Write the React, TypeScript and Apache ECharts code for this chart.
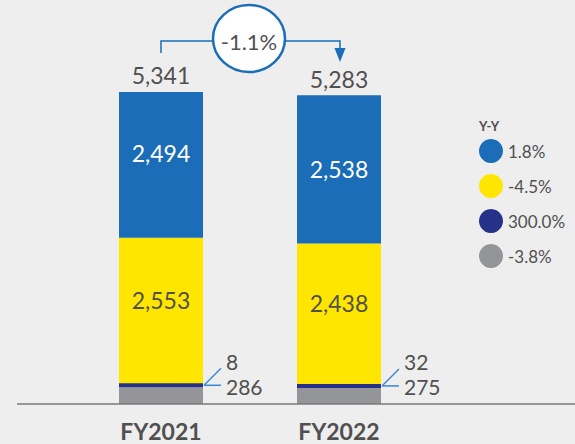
import React, { useEffect, useRef } from 'react';
import * as echarts from 'echarts';

const categories = ['FY2021', 'FY2022'];
// stack order bottom -> top: gray, navy, yellow, blue
const seriesNames = ['Segment A', 'Segment B', 'Segment C', 'Segment D']; // blue, yellow, navy, gray
const blueValues = [2494, 2538];
const yellowValues = [2553, 2438];
const navyValues = [8, 32];
const grayValues = [286, 275];
const totalValues = [5341, 5283];
const yoyLabels = ['1.8%', '-4.5%', '300.0%', '-3.8%'];
const totalChangeLabel = '-1.1%';
const legendTitle = 'Y-Y';

const FONT = 'Lato';
const TEXT = '#505050';
const BLUE = '#1a6db6';
const YELLOW = '#ffe600';
const NAVY = '#263289';
const GRAY = '#939598';
const LEADER = '#3a87cf';
const BAR_W = 84;

const fmt = (v: number) => v.toLocaleString('en-US');

export default function App() {
  const ref = useRef<HTMLDivElement>(null);

  useEffect(() => {
    if (!ref.current) return;
    const chart = echarts.init(ref.current, undefined, { renderer: 'svg' });

    const labelBase = { fontFamily: FONT, fontSize: 23, color: TEXT };
    const blueOffsets = [-12, 0];

    const option: any = {
      animation: false,
      backgroundColor: '#eeeeee',
      legend: {
        data: seriesNames,
        orient: 'vertical',
        left: 479,
        top: 139,
        padding: 0,
        icon: 'circle',
        itemWidth: 24,
        itemHeight: 24,
        itemGap: 11,
        selectedMode: false,
        formatter: (name: string) => yoyLabels[seriesNames.indexOf(name)],
        textStyle: { fontFamily: FONT, fontSize: 17, color: TEXT },
      },
      grid: { left: 72, right: 147, top: 30, bottom: 40 },
      xAxis: {
        type: 'category',
        data: categories,
        axisLine: { show: false },
        axisTick: { show: false },
        axisLabel: { fontFamily: FONT, fontSize: 23, fontWeight: 'bold', color: TEXT, margin: 15 },
      },
      yAxis: { type: 'value', min: 0, max: 6400, show: false, splitLine: { show: false } },
      series: [
        {
          name: 'Total',
          type: 'bar',
          data: totalValues,
          barWidth: BAR_W,
          barGap: '-100%',
          silent: true,
          z: 1,
          itemStyle: { color: 'rgba(0,0,0,0)' },
          label: { show: true, position: 'top', distance: 5, ...labelBase, formatter: (p: any) => fmt(p.value) },
        },
        {
          name: seriesNames[3],
          type: 'bar',
          stack: 'all',
          data: grayValues,
          barWidth: BAR_W,
          barGap: '-100%',
          itemStyle: { color: GRAY },
          label: {
            show: true, position: 'right', distance: 23, offset: [0, -9], ...labelBase, fontSize: 21, lineHeight: 21,
            formatter: (p: any) => fmt(p.value),
          },
        },
        {
          name: seriesNames[2],
          type: 'bar',
          stack: 'all',
          data: navyValues,
          barWidth: BAR_W,
          barGap: '-100%',
          barMinHeight: 4,
          z: 3,
          itemStyle: { color: NAVY },
          label: {
            show: true, position: 'right', distance: 23, offset: [0, -24], ...labelBase, fontSize: 21, lineHeight: 21,
            formatter: (p: any) => fmt(p.value),
          },
        },
        {
          name: seriesNames[1],
          type: 'bar',
          stack: 'all',
          data: yellowValues,
          barWidth: BAR_W,
          barGap: '-100%',
          itemStyle: { color: YELLOW },
          label: { show: true, position: 'inside', offset: [0, -12], ...labelBase, formatter: (p: any) => fmt(p.value) },
        },
        {
          name: seriesNames[0],
          type: 'bar',
          stack: 'all',
          data: blueValues.map((v, i) => ({ value: v, label: { offset: [0, blueOffsets[i]] } })),
          barWidth: BAR_W,
          barGap: '-100%',
          itemStyle: { color: BLUE },
          label: { show: true, position: 'inside', ...labelBase, color: '#ffffff', formatter: (p: any) => fmt(p.value) },
        },
      ],
    };

    chart.setOption(option);

    const px = (i: number, v: number) =>
      chart.convertToPixel({ xAxisIndex: 0, yAxisIndex: 0 }, [i, v]) as number[];

    const base = px(0, 0);
    const baseY = base[1];
    const graphics: any[] = [
      {
        type: 'line',
        shape: { x1: 17, y1: baseY, x2: 575, y2: baseY },
        style: { stroke: '#7a7a7a', lineWidth: 1.5 },
        z: 10,
      },
      {
        type: 'text',
        z: 12,
        style: {
          text: legendTitle,
          x: 479,
          y: 126,
          align: 'left',
          verticalAlign: 'middle',
          textAlign: 'left',
          textVerticalAlign: 'middle',
          fontFamily: FONT,
          fontSize: 13,
          fontWeight: 'bold',
          fill: TEXT,
        },
      },
    ];

    categories.forEach((_, i) => {
      const p = px(i, grayValues[i]);
      const x0 = p[0] + BAR_W / 2 + 1;
      const y0 = p[1] - 2;
      graphics.push(
        { type: 'line', shape: { x1: x0, y1: y0, x2: x0 + 17, y2: y0 - 17 }, style: { stroke: LEADER, lineWidth: 1.5 }, z: 10 },
        { type: 'line', shape: { x1: x0, y1: y0, x2: x0 + 17, y2: y0 }, style: { stroke: LEADER, lineWidth: 1.5 }, z: 10 }
      );
    });

    const c0 = px(0, 0)[0];
    const c1 = px(1, 0)[0];
    const midX = (c0 + c1) / 2 - 1;
    const cy = 38.5;
    const rx = 36;
    const ry = 33.5;
    const lineY = 41;
    const arrowX = c1 + 1;
    graphics.push(
      {
        type: 'polyline',
        shape: { points: [[c0, 53], [c0, lineY], [midX - rx, lineY]] },
        style: { stroke: BLUE, lineWidth: 1.5, fill: 'none' },
        z: 10,
      },
      {
        type: 'polyline',
        shape: { points: [[midX + rx, lineY], [arrowX, lineY], [arrowX, 49]] },
        style: { stroke: BLUE, lineWidth: 1.5, fill: 'none' },
        z: 10,
      },
      {
        type: 'polygon',
        shape: { points: [[arrowX - 5.5, 48], [arrowX + 5.5, 48], [arrowX, 62]] },
        style: { fill: BLUE },
        z: 10,
      },
      {
        type: 'ellipse',
        shape: { cx: midX, cy, rx, ry },
        style: { fill: '#ffffff', stroke: BLUE, lineWidth: 2.5 },
        z: 11,
      },
      {
        type: 'text',
        z: 12,
        style: {
          text: totalChangeLabel,
          x: midX,
          y: lineY,
          align: 'center',
          verticalAlign: 'middle',
          textAlign: 'center',
          textVerticalAlign: 'middle',
          fontFamily: FONT,
          fontSize: 22,
          fill: TEXT,
        },
      }
    );

    chart.setOption({ graphic: graphics });

    return () => chart.dispose();
  }, []);

  return (
    <div
      ref={ref}
      style={{ position: 'absolute', left: 0, top: 0, width: 575, height: 444 }}
    />
  );
}
